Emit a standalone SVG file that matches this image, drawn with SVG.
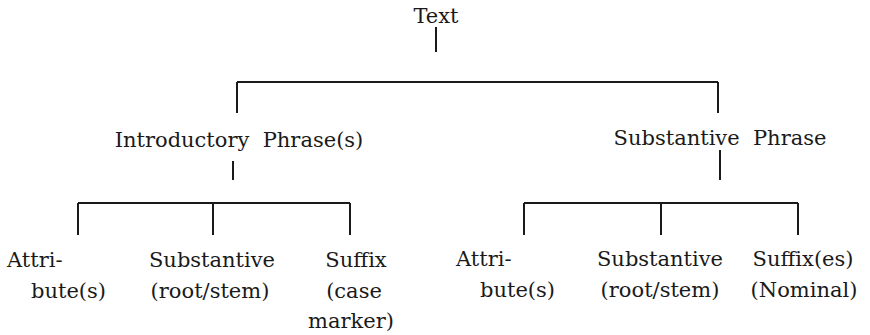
<svg xmlns="http://www.w3.org/2000/svg" width="870" height="335" viewBox="0 0 870 335">
<style>
text{font-family:"DejaVu Serif","Liberation Serif",serif;font-size:21px;fill:#1a1a1a}
.m{text-anchor:middle}
.c line{stroke:#1a1a1a;stroke-width:2}
</style>
<rect width="870" height="335" fill="#fff"/>
<g id="connectors" class="c">
<line x1="436" y1="27" x2="436" y2="52"/>
<line x1="237" y1="82" x2="718" y2="82"/>
<line x1="237" y1="82" x2="237" y2="113"/>
<line x1="718" y1="82" x2="718" y2="113"/>
<line x1="233" y1="161" x2="233" y2="180"/>
<line x1="720" y1="150" x2="720" y2="180"/>
<line x1="78" y1="203" x2="350" y2="203"/>
<line x1="78" y1="203" x2="78" y2="235"/>
<line x1="213" y1="203" x2="213" y2="235"/>
<line x1="350" y1="203" x2="350" y2="235"/>
<line x1="524" y1="203" x2="798" y2="203"/>
<line x1="524" y1="203" x2="524" y2="235"/>
<line x1="661" y1="203" x2="661" y2="235"/>
<line x1="798" y1="203" x2="798" y2="235"/>
</g>
<g id="text"><text class="m" x="436" y="23">Text</text></g>
<g id="intro"><text class="m" x="239" y="147" xml:space="preserve">Introductory  Phrase(s)</text></g>
<g id="subphrase"><text class="m" x="720" y="145" xml:space="preserve">Substantive  Phrase</text></g>
<g id="l-attr"><text x="7" y="267">Attri-</text><text x="31" y="298">bute(s)</text></g>
<g id="l-subst"><text class="m" x="212" y="267">Substantive</text><text class="m" x="210" y="298">(root/stem)</text></g>
<g id="l-suffix"><text class="m" x="356" y="267">Suffix</text><text class="m" x="354" y="298">(case</text><text class="m" x="351" y="328">marker)</text></g>
<g id="r-attr"><text x="456" y="266">Attri-</text><text x="480" y="297">bute(s)</text></g>
<g id="r-subst"><text class="m" x="660" y="266">Substantive</text><text class="m" x="660" y="297">(root/stem)</text></g>
<g id="r-suffix"><text class="m" x="803" y="266">Suffix(es)</text><text class="m" x="804" y="297">(Nominal)</text></g>
</svg>
